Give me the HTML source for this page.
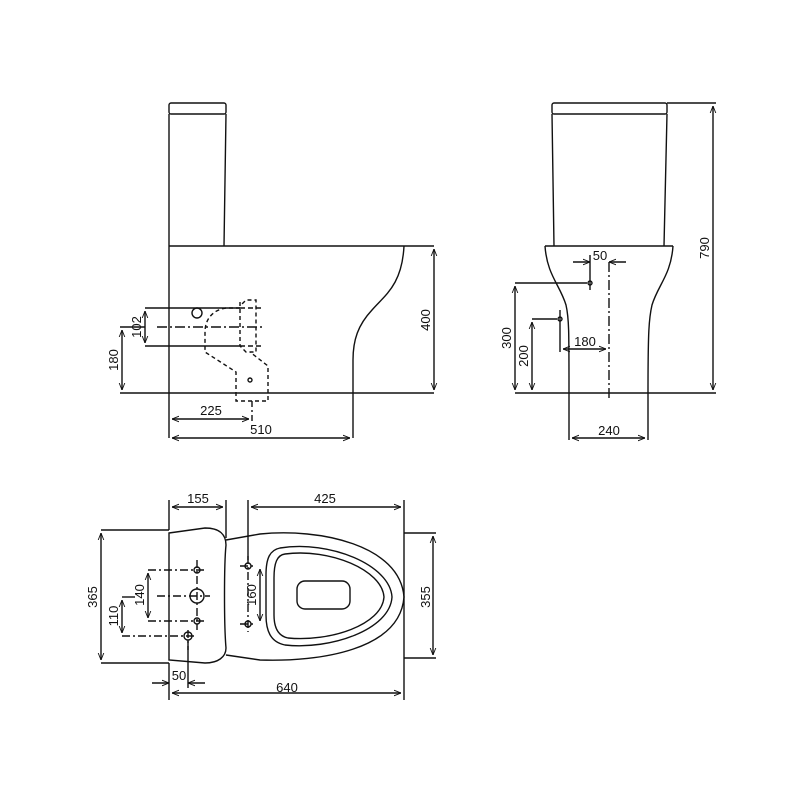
<!DOCTYPE html>
<html><head><meta charset="utf-8"><style>
html,body{margin:0;padding:0;background:#fff;}
svg{display:block;}
text{font-family:"Liberation Sans",sans-serif;font-size:13px;fill:#111;}
</style></head><body>
<svg width="800" height="800" viewBox="0 0 800 800" xmlns="http://www.w3.org/2000/svg">
<defs>
<marker id="a" viewBox="0 0 10 10" refX="10" refY="5" markerWidth="7" markerHeight="7" orient="auto-start-reverse" markerUnits="userSpaceOnUse"><path d="M0,1 L10,5 L0,9" fill="none" stroke="#111" stroke-width="1.3"/></marker>
</defs>
<g stroke="#111" stroke-width="1.4" fill="none">
<!-- SIDE VIEW -->
<rect x="169" y="103" width="57" height="11" rx="2"/>
<path d="M169,114 V246 M226,114 L224,246"/>
<path d="M169,246 H434"/>
<path d="M169,246 V438"/>
<path d="M404,246 C402,285 385,295 372,310 C358,325 353,340 353,360 V438"/>
<path d="M120,393 H434"/>
<path d="M145,308 H240 M145,346 H240"/>
<path d="M240,308 H262 M240,346 H262" stroke-dasharray="5,3"/>
<path d="M157,327 H264" stroke-dasharray="10,3,2,3"/>
<circle cx="197" cy="313" r="5"/>
<g stroke-dasharray="4,3">
<path d="M240,308 H226 C212,310 205,320 205,332 V352 L236,372 V401 H268 V366 L250,352"/>
<path d="M240,302 V346 L246,352 H256 V300 H246 L240,306"/>
</g>
<path d="M252,401 V421" stroke-dasharray="6,3,2,3"/>
<circle cx="250" cy="380" r="2"/>
<path d="M434,249 V390" marker-start="url(#a)" marker-end="url(#a)"/>
<path d="M145,311 V343" marker-start="url(#a)" marker-end="url(#a)"/>
<path d="M120,327 H145"/>
<path d="M122,330 V390" marker-start="url(#a)" marker-end="url(#a)"/>
<path d="M172,419 H249" marker-start="url(#a)" marker-end="url(#a)"/>
<path d="M172,438 H350" marker-start="url(#a)" marker-end="url(#a)"/>

<!-- FRONT VIEW -->
<rect x="552" y="103" width="115" height="11" rx="2"/>
<path d="M552,114 L554,246 M667,114 L664,246"/>
<path d="M545,246 H673"/>
<path d="M545,246 C547,275 560,285 566,305 C569,318 569,330 569,393 V440"/>
<path d="M673,246 C671,275 658,285 652,305 C649,318 648,330 648,393 V440"/>
<path d="M515,393 H716"/>
<path d="M667,103 H716"/>
<path d="M713,106 V390" marker-start="url(#a)" marker-end="url(#a)"/>
<path d="M609,262 V398" stroke-dasharray="10,3,2,3"/>
<path d="M573,262 H590" marker-end="url(#a)"/>
<path d="M590,255 V290"/>
<path d="M626,262 H609" marker-end="url(#a)"/>
<path d="M515,283 H587"/>
<circle cx="590" cy="283" r="2"/>
<path d="M515,286 V390" marker-start="url(#a)" marker-end="url(#a)"/>
<path d="M532,319 H557"/>
<circle cx="560" cy="319" r="2"/>
<path d="M532,322 V390" marker-start="url(#a)" marker-end="url(#a)"/>
<path d="M560,310 V352"/>
<path d="M563,349 H606" marker-start="url(#a)" marker-end="url(#a)"/>
<path d="M572,438 H645" marker-start="url(#a)" marker-end="url(#a)"/>

<!-- PLAN VIEW -->
<path d="M169,533 L205,528 C220,528 226,535 226,545 C224,565 224,625 226,648 C226,657 218,663 205,663 L169,660 Z"/>
<path d="M226,540 L260,534 C320,528 400,545 404,597 C400,650 320,662 260,660 L226,655"/>
<path d="M280,548 C330,540 390,565 392,597 C390,630 330,650 285,645 C270,642 266,630 266,615 V575 C266,558 270,550 280,548 Z"/>
<path d="M285,554 C330,548 382,570 384,597 C382,625 330,642 288,638 C278,636 274,628 274,615 V578 C274,563 277,555 285,554 Z"/>
<rect x="297" y="581" width="53" height="28" rx="8"/>
<path d="M169,500 V530 M226,500 V538 M248,500 V560 M404,500 V700 M169,663 V700 M188,640 V688"/>
<path d="M172,507 H223" marker-start="url(#a)" marker-end="url(#a)"/>
<path d="M251,507 H401" marker-start="url(#a)" marker-end="url(#a)"/>
<path d="M172,693 H401" marker-start="url(#a)" marker-end="url(#a)"/>
<path d="M101,530 H169 M101,663 H169"/>
<path d="M101,533 V660" marker-start="url(#a)" marker-end="url(#a)"/>
<path d="M404,533 H436 M404,658 H436"/>
<path d="M433,536 V655" marker-start="url(#a)" marker-end="url(#a)"/>
<g stroke-dasharray="8,3,2,3">
<path d="M148,570 H205 M148,621 H205 M157,596 H210 M122,636 H195 M197,560 V630 M188,630 V650 M240,566 H256 M240,624 H256 M248,556 V632"/>
</g>
<path d="M148,573 V618" marker-start="url(#a)" marker-end="url(#a)"/>
<path d="M122,600 V633" marker-start="url(#a)" marker-end="url(#a)"/>
<path d="M122,597 H135"/>
<path d="M260,569 V621" marker-start="url(#a)" marker-end="url(#a)"/>
<circle cx="197" cy="570" r="3"/>
<circle cx="197" cy="621" r="3"/>
<circle cx="197" cy="596" r="7"/>
<circle cx="188" cy="636" r="4"/>
<circle cx="248" cy="566" r="3"/>
<circle cx="248" cy="624" r="3"/>
<path d="M152,683 H169" marker-end="url(#a)"/>
<path d="M205,683 H188" marker-end="url(#a)"/>
</g>
<!-- labels -->
<text x="430" y="320" text-anchor="middle" transform="rotate(-90 430 320)">400</text>
<text x="141" y="327" text-anchor="middle" transform="rotate(-90 141 327)">102</text>
<text x="118" y="360" text-anchor="middle" transform="rotate(-90 118 360)">180</text>
<text x="211" y="415" text-anchor="middle">225</text>
<text x="261" y="434" text-anchor="middle">510</text>
<text x="709" y="248" text-anchor="middle" transform="rotate(-90 709 248)">790</text>
<text x="600" y="260" text-anchor="middle">50</text>
<text x="511" y="338" text-anchor="middle" transform="rotate(-90 511 338)">300</text>
<text x="528" y="356" text-anchor="middle" transform="rotate(-90 528 356)">200</text>
<text x="585" y="346" text-anchor="middle">180</text>
<text x="609" y="435" text-anchor="middle">240</text>
<text x="198" y="503" text-anchor="middle">155</text>
<text x="325" y="503" text-anchor="middle">425</text>
<text x="287" y="692" text-anchor="middle">640</text>
<text x="97" y="597" text-anchor="middle" transform="rotate(-90 97 597)">365</text>
<text x="430" y="597" text-anchor="middle" transform="rotate(-90 430 597)">355</text>
<text x="144" y="595" text-anchor="middle" transform="rotate(-90 144 595)">140</text>
<text x="118" y="616" text-anchor="middle" transform="rotate(-90 118 616)">110</text>
<text x="256" y="595" text-anchor="middle" transform="rotate(-90 256 595)">160</text>
<text x="179" y="680" text-anchor="middle">50</text>
</svg>
</body></html>
